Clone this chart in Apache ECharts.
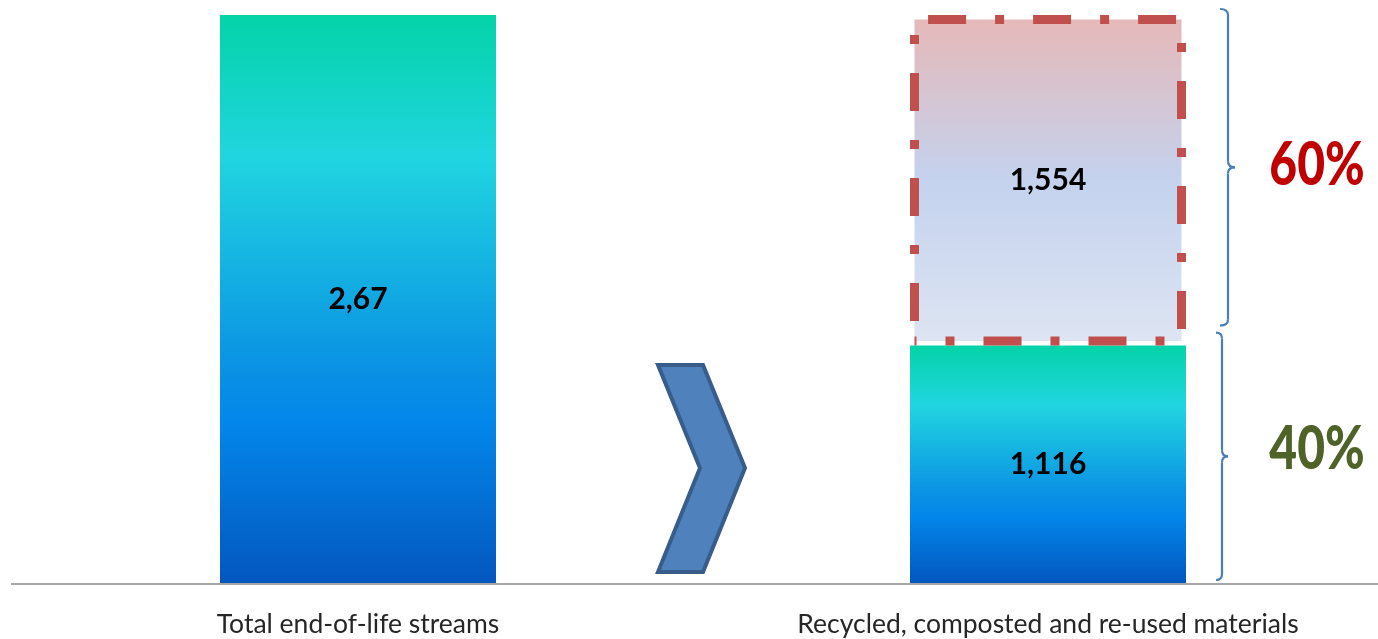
<!DOCTYPE html>
<html>
<head>
<meta charset="utf-8">
<script src="https://cdn.jsdelivr.net/npm/echarts@6/dist/echarts.min.js"></script>
<style>
html,body{margin:0;padding:0;background:#fff;}
#c{width:1378px;height:639px;}
</style>
</head>
<body>
<div id="c"></div>
<script>
// ---- data ----
// middle (empty) category is the slot holding the arrow
var categories = ['Total end-of-life streams', '', 'Recycled, composted and re-used materials'];
var baseValues = [2.67, '-', 1.116];        // total stream, recycled share
var remainderValues = ['-', '-', 1.554];    // remaining part stacked on recycled bar
var percentLabels = ['40%', '60%'];         // lower brace, upper brace

var chart = echarts.init(document.getElementById('c'));

function fmt(v) { return String(v).replace('.', ','); }

var blueGrad = new echarts.graphic.LinearGradient(0, 0, 0, 1, [
  {offset: 0, color: '#04d3a8'},
  {offset: 0.25, color: '#21d5e0'},
  {offset: 0.62, color: '#0a92e4'},
  {offset: 0.72, color: '#0386ea'},
  {offset: 1, color: '#0357bf'}
]);
var pinkGrad = new echarts.graphic.LinearGradient(0, 0, 0, 1, [
  {offset: 0, color: '#e6b8b7'},
  {offset: 0.5, color: '#c4d2ee'},
  {offset: 1, color: '#dee5f3'}
]);

var labelFont = {
  show: true, position: 'inside', color: '#000', fontWeight: 'bold',
  fontFamily: 'Lato', fontSize: 30,
  formatter: function (p) { return fmt(p.value); }
};

chart.setOption({
  animation: false,
  grid: {left: 185.5, width: 1035, top: 15, bottom: 56},
  xAxis: {
    type: 'category', data: categories,
    axisLine: {show: false},
    axisTick: {show: false},
    axisLabel: {color: '#262626', fontFamily: 'Lato', fontSize: 26.5, margin: 28, interval: 0}
  },
  yAxis: {type: 'value', min: 0, max: 2.67, show: false, splitLine: {show: false}},
  series: [
    {
      type: 'bar', stack: 's', barWidth: 276, data: baseValues,
      itemStyle: {color: blueGrad},
      label: labelFont
    },
    {
      type: 'bar', stack: 's', barWidth: 276, data: remainderValues,
      itemStyle: {
        color: pinkGrad, borderColor: '#c0504d', borderWidth: 9,
        borderType: [38, 29, 9, 29], borderDashOffset: 36
      },
      label: labelFont
    }
  ]
});

function px(ci, v) { return chart.convertToPixel({gridIndex: 0}, [ci, v]); }

var p0 = px(0, 0), p2 = px(2, 0);
var yTop = px(2, baseValues[2] + remainderValues[2])[1];
var yMid = px(2, baseValues[2])[1];
var yBase = p2[1];
var barRight = p2[0] + 138;
var cx = px(1, 0)[0];

var braceStyle = {stroke: '#4a7ebb', lineWidth: 2.2, fill: null};
function brace(x, top, bot, hookL, tickR) {
  var m = (top + bot) / 2;
  return {
    type: 'group',
    children: [
      {type: 'bezierCurve', shape: {x1: x - hookL, y1: top, cpx1: x, cpy1: top, x2: x, y2: top + 6}, style: braceStyle},
      {type: 'line', shape: {x1: x, y1: top + 6, x2: x, y2: m - 6}, style: braceStyle},
      {type: 'bezierCurve', shape: {x1: x, y1: m - 6, cpx1: x, cpy1: m, x2: x + tickR, y2: m}, style: braceStyle},
      {type: 'bezierCurve', shape: {x1: x + tickR, y1: m, cpx1: x, cpy1: m, x2: x, y2: m + 6}, style: braceStyle},
      {type: 'line', shape: {x1: x, y1: m + 6, x2: x, y2: bot - 6}, style: braceStyle},
      {type: 'bezierCurve', shape: {x1: x, y1: bot - 6, cpx1: x, cpy1: bot, x2: x - hookL, y2: bot}, style: braceStyle}
    ]
  };
}

var ubx = barRight + 42, ubt = yTop - 6, ubb = yMid - 20;
var lbx = barRight + 36, lbt = yMid - 13, lbb = yBase - 3;

chart.setOption({
  graphic: [
    {type: 'line', z: 1, shape: {x1: 11, y1: yBase + 1, x2: 1378, y2: yBase + 1},
     style: {stroke: '#a6a6a6', lineWidth: 2}},
    brace(ubx, ubt, ubb, 8, 7),
    brace(lbx, lbt, lbb, 6, 6),
    {type: 'text', x: barRight + 131, y: (ubt + ubb) / 2 - 2, scaleX: 0.8,
     style: {text: percentLabels[1], fill: '#c00000', font: '900 60px Lato',
             textAlign: 'center', textVerticalAlign: 'middle'}},
    {type: 'text', x: barRight + 131, y: (lbt + lbb) / 2 - 7, scaleX: 0.8,
     style: {text: percentLabels[0], fill: '#4f6228', font: '900 60px Lato',
             textAlign: 'center', textVerticalAlign: 'middle'}},
    {type: 'polygon',
     shape: {points: [[cx - 45, yBase - 218], [cx, yBase - 218], [cx + 42, yBase - 115],
                      [cx, yBase - 11], [cx - 45, yBase - 11], [cx - 3, yBase - 115]]},
     style: {fill: '#4f81bd', stroke: '#385d8a', lineWidth: 4, lineJoin: 'miter'}}
  ]
});
</script>
</body>
</html>
